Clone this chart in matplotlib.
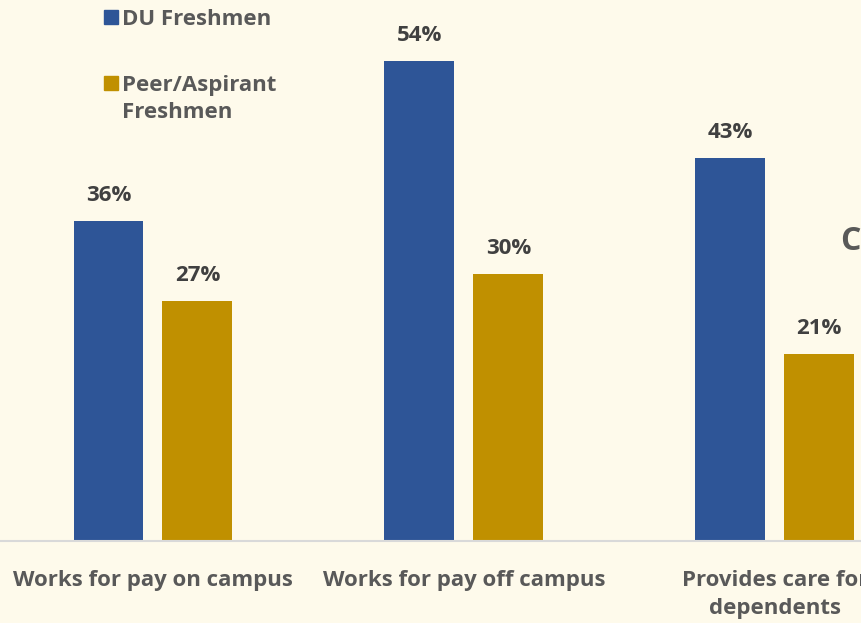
import matplotlib
matplotlib.use('Agg')
import matplotlib.pyplot as plt
from matplotlib.patches import Rectangle
import numpy as np

# data
categories = ['Works for pay on campus', 'Works for pay off campus', 'Provides care for\ndependents']
du_freshmen = [36, 54, 43]
peer_freshmen = [27, 30, 21]
series_names = ['DU Freshmen', 'Peer/Aspirant\nFreshmen']

bg = '#FEFAEB'
blue = '#2E5597'
gold = '#C09000'
label_col = '#404040'
tick_col = '#595959'

plt.rcParams['font.family'] = ['Open Sans', 'DejaVu Sans']

W, H = 861, 623
fig = plt.figure(figsize=(W / 100, H / 100), dpi=100, facecolor=bg)
ax = fig.add_axes([0, 1 - 541 / H, 1, 541 / H])
ax.set_facecolor(bg)

x = np.arange(len(categories))
w = 0.225
off = 0.143
colors = [blue, gold]
b1 = ax.bar(x - off, du_freshmen, w, color=blue)
b2 = ax.bar(x + off, peer_freshmen, w, color=gold)

for bars in (b1, b2):
    for r in bars:
        ax.annotate(f'{r.get_height():.0f}%', (r.get_x() + r.get_width() / 2, r.get_height()),
                    xytext=(0, 15), textcoords='offset pixels', ha='center', va='bottom',
                    fontsize=16, fontweight='bold', color=label_col)

ax.set_xlim(-0.492, 2.277)
ax.set_ylim(0, 60.8)
ax.set_yticks([])
ax.set_xticks(x)
ax.set_xticklabels(categories, fontsize=16, fontweight='bold', color=tick_col, linespacing=1.45)
ax.tick_params(axis='x', length=0, pad=21)
for s in ('top', 'right', 'left'):
    ax.spines[s].set_visible(False)
ax.spines['bottom'].set_color('#D9D9D9')
ax.spines['bottom'].set_linewidth(1.5)

# cut-off text at right edge
fig.text(840 / W, 1 - 242 / H, 'C', fontsize=23, fontweight='bold', color=tick_col,
         ha='left', va='center')

# legend, square aligned with first line of each label
leg_y = [17, 83]
for name, c, yy in zip(series_names, colors, leg_y):
    fig.patches.append(Rectangle((104 / W, 1 - (yy + 7) / H), 14 / W, 14 / H,
                                 transform=fig.transFigure, color=c, figure=fig))
    fig.text(122 / W, 1 - (yy - 8) / H, name, fontsize=16, fontweight='bold',
             color=tick_col, ha='left', va='top', linespacing=1.35)

fig.savefig('out.png', dpi=100, facecolor=bg)
